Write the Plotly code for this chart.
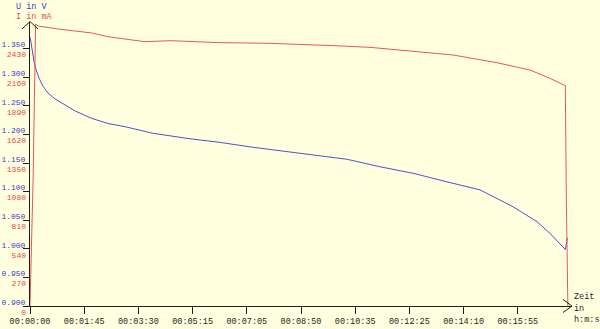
import plotly.graph_objects as go

# ---- data (time in seconds) ----
u_time = [0, 1, 3, 5, 8, 12, 17.5, 25, 35, 49, 68, 88, 120, 152, 185, 239, 306, 370, 434, 500, 565, 617, 681, 746, 812,
          876, 940, 987, 1012, 1042, 1046]
u_volt = [1.370, 1.367, 1.3546, 1.3406, 1.3266, 1.3126, 1.2986, 1.2846, 1.2724, 1.2619, 1.2514, 1.2409, 1.228, 1.219,
          1.2135, 1.202, 1.193, 1.186, 1.1775, 1.170, 1.162, 1.1565, 1.1435, 1.132, 1.117, 1.103, 1.0736, 1.0474, 1.0271,
          0.9988, 1.0189]

i_time = [0, 6, 11, 16, 55, 88, 121, 152, 185, 224, 273, 370, 467, 531, 604, 662, 746, 823, 909, 973, 1012, 1042, 1044, 1047]
i_curr = [0, 1190, 2662, 2643, 2615, 2596, 2577, 2542, 2521, 2495, 2505, 2486, 2480, 2471, 2455, 2442, 2401, 2370, 2297, 2228,
          2150, 2080, 1001, 0]

x_tick_labels = ["00:00:00", "00:01:45", "00:03:30", "00:05:15", "00:07:05",
                 "00:08:50", "00:10:35", "00:12:25", "00:14:10", "00:15:55"]
x_tick_step = 105.5
u_ticks = [0.90, 0.95, 1.00, 1.05, 1.10, 1.15, 1.20, 1.25, 1.30, 1.35]
i_ticks = [0, 270, 540, 810, 1080, 1350, 1620, 1890, 2160, 2430]

BLUE = "#3c3cc4"
RED = "#e44848"
AX = "#1e1e1e"
BG = "#ffffe0"
FONT = "Liberation Mono"

W, H = 600, 329
L, R, T, B = 30, 28, 22, 23
PW, PH = W - L - R, H - T - B


def px(x):
    return (x - L) / PW


def py(y):
    return (H - B - y) / PH


fig = go.Figure()
fig.add_trace(go.Scatter(x=u_time, y=u_volt, mode="lines", line=dict(color="#5050d0", width=1), yaxis="y"))
fig.add_trace(go.Scatter(x=i_time, y=i_curr, mode="lines", line=dict(color="#e85454", width=1), yaxis="y2"))

u_range = [0.9, 0.9 + 0.05 * PH / 28.6]
i_range = [0, (u_range[1] - 0.9) * 5400]

fig.update_layout(
    width=W, height=H,
    margin=dict(l=L, r=R, t=T, b=B, autoexpand=False),
    paper_bgcolor=BG, plot_bgcolor=BG,
    showlegend=False,
    font=dict(family=FONT, size=8.5, color=AX),
    xaxis=dict(
        range=[0, PW / (54.2 / x_tick_step)],
        tickvals=[i * x_tick_step for i in range(len(x_tick_labels))],
        ticktext=x_tick_labels,
        automargin=False,
        showgrid=False, zeroline=False,
        showline=True, linecolor=AX, linewidth=1,
        ticks="outside", ticklen=7, tickcolor=AX, tickwidth=1,
        tickfont=dict(family=FONT, size=8.5, color=AX),
    ),
    yaxis=dict(
        range=u_range,
        tickvals=u_ticks,
        tickformat=".3f",
        automargin=False,
        showgrid=False, zeroline=False,
        showline=True, linecolor=AX, linewidth=1,
        ticks="outside", ticklen=6, tickcolor=AX, tickwidth=1,
        tickfont=dict(family=FONT, size=8, color=BLUE),
        ticklabelshift=-4, ticklabelstandoff=-4,
    ),
    yaxis2=dict(
        range=i_range,
        tickvals=i_ticks,
        overlaying="y", side="left",
        automargin=False,
        showgrid=False, zeroline=False,
        showline=False,
        ticks="",
        tickfont=dict(family=FONT, size=8, color=RED),
        ticklabelshift=6, ticklabelstandoff=3,
    ),
)

# axis titles
fig.add_annotation(text="U in V", xref="paper", yref="paper", x=px(14), y=py(7),
                   xanchor="left", yanchor="middle", showarrow=False,
                   font=dict(family=FONT, size=8.5, color=BLUE))
fig.add_annotation(text="I in mA", xref="paper", yref="paper", x=px(14), y=py(17),
                   xanchor="left", yanchor="middle", showarrow=False,
                   font=dict(family=FONT, size=8.5, color=RED))
for txt, yy in [("Zeit", 297), ("in", 309), ("h:m:s", 320)]:
    fig.add_annotation(text=txt, xref="paper", yref="paper", x=px(572), y=py(yy),
                       xanchor="left", yanchor="middle", showarrow=False,
                       font=dict(family=FONT, size=8.5, color=AX))

# arrow heads
fig.add_shape(type="path", xref="paper", yref="paper",
              path=f"M {px(22)} {py(29)} L {px(30)} {py(21.5)} L {px(38)} {py(29)}",
              line=dict(color=AX, width=1))
fig.add_shape(type="path", xref="paper", yref="paper",
              path=f"M {px(563)} {py(299.5)} L {px(572)} {py(306)} L {px(563)} {py(312.5)}",
              line=dict(color=AX, width=1))

fig.write_html("out.html")
